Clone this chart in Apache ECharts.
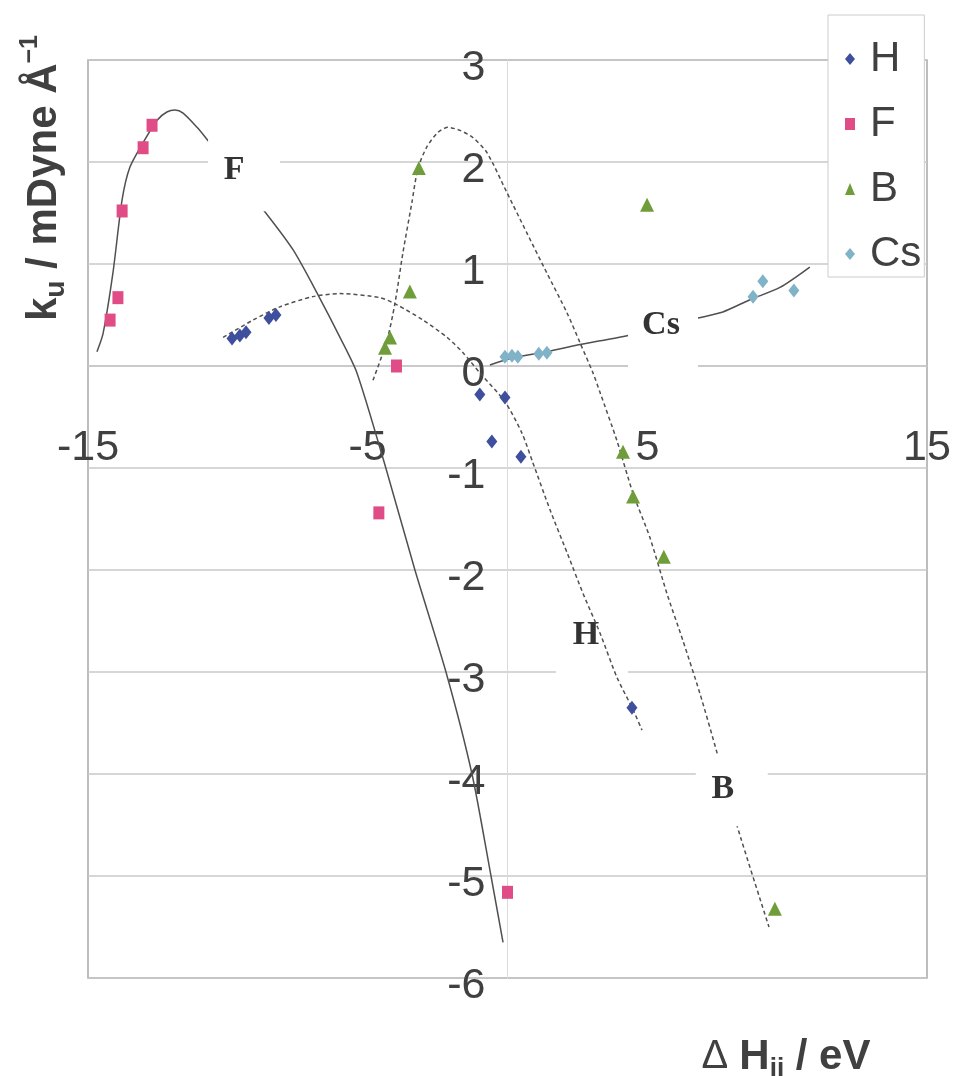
<!DOCTYPE html>
<html><head><meta charset="utf-8">
<script src="https://cdn.jsdelivr.net/npm/echarts@6/dist/echarts.min.js"></script>
<style>html,body{margin:0;padding:0;background:#fff}#c{width:954px;height:1076px}</style>
</head><body><div id="c"></div>
<script>
// ---- data ----
const seriesNames = ['H', 'F', 'B', 'Cs'];
const hPoints = [[-9.85,0.27],[-9.57,0.30],[-9.35,0.33],[-8.53,0.47],[-8.28,0.50],[-0.99,-0.28],[-0.09,-0.31],[-0.56,-0.74],[0.48,-0.89],[4.45,-3.35]];
const fPoints = [[-14.21,0.45],[-13.93,0.67],[-13.78,1.52],[-13.03,2.14],[-12.71,2.36],[-4.60,-1.44],[-3.97,0.0],[0.0,-5.16]];
const bPoints = [[-4.38,0.18],[-4.20,0.28],[-3.49,0.73],[-3.17,1.94],[4.99,1.58],[4.13,-0.84],[4.49,-1.28],[5.59,-1.87],[9.56,-5.32]];
const csPoints = [[-0.09,0.09],[0.16,0.10],[0.37,0.09],[1.12,0.12],[1.41,0.13],[8.78,0.68],[9.13,0.83],[10.24,0.74]];

// trend curves
const fCurve = [[-14.68,0.14],[-14.46,0.32],[-14.11,0.91],[-13.78,1.63],[-13.50,1.95],[-13.03,2.19],[-12.53,2.41],[-12.18,2.49],[-11.89,2.51],[-11.60,2.48],[-11.10,2.34],[-10.71,2.21],[-8.67,1.51],[-7.67,1.14],[-6.78,0.70],[-5.99,0.28],[-5.38,-0.07],[-4.35,-1.0],[-3.31,-2.0],[-2.20,-3.0],[-1.27,-4.0],[-0.59,-5.0],[-0.16,-5.65]];
const hCurve = [[-10.17,0.28],[-9.10,0.45],[-8.14,0.58],[-6.96,0.68],[-5.99,0.71],[-4.56,0.67],[-3.95,0.60],[-3.02,0.45],[-2.16,0.28],[-1.59,0.13],[-0.98,-0.07],[-0.09,-0.35],[0.52,-0.66],[0.91,-0.95],[1.52,-1.41],[2.13,-1.83],[2.70,-2.23],[3.31,-2.62],[3.91,-3.05],[4.49,-3.37],[4.81,-3.57]];
const bCurve = [[-4.81,-0.14],[-4.31,0.25],[-4.02,0.62],[-3.74,1.11],[-3.42,1.60],[-3.20,1.94],[-2.88,2.15],[-2.49,2.29],[-2.13,2.34],[-1.70,2.31],[-1.24,2.24],[-0.73,2.09],[-0.02,1.70],[0.70,1.30],[1.41,0.91],[2.13,0.52],[2.59,0.23],[3.06,-0.07],[3.31,-0.26],[3.91,-0.73],[4.49,-1.25],[5.09,-1.68],[5.70,-2.23],[6.27,-2.69],[6.88,-3.21],[7.49,-3.79],[8.20,-4.50],[9.35,-5.50]];
const csCurve = [[-0.63,0.01],[0.20,0.08],[1.41,0.14],[2.59,0.21],[4.31,0.30],[6.81,0.47],[7.70,0.53],[8.67,0.65],[9.74,0.77],[10.81,0.97]];

// curve annotation labels (text, anchor in data units)
const curveLabels = ['F', 'H', 'B', 'Cs'];
const curveLabelAnchors = [[-9.42,1.89],[3.02,-2.69],[8.02,-4.16],[5.56,0.32]];

// axes
const xMin = -15, xMax = 15, xStep = 10;
const yMin = -6, yMax = 3, yStep = 1;

// ---- styling ----
const colors = {H:'#3e4f9e', F:'#e04d86', B:'#6f9d3a', Cs:'#80b3c7'};
const symbols = {H:'diamond', F:'rect', B:'triangle', Cs:'diamond'};
const symSizes = {H:[11,14], F:[11,13], B:[14,14], Cs:[11,14]};
const labelBox = {F:{size:[72,76], offset:[-10,-3], z:5}, H:{size:[72,80], offset:[-6,-5], z:1}, B:{size:[72,72], offset:[-9,-1], z:5}, Cs:{size:[70,76], offset:[-2,-8], z:5}};
const curveColor = '#505050';
const textColor = '#404040';

const grid = {left:88, top:60, width:839, height:918};
const pointsByName = {H:hPoints, F:fPoints, B:bPoints, Cs:csPoints};

const series = [];
function curve(name, data, dashed) {
  return {name: name, type:'line', data: data, smooth: 0.25, showSymbol:false, silent:true, z:2,
    lineStyle:{color:curveColor, width:1.5, type: dashed ? [4,3] : 'solid'}};
}
series.push(curve('F fit', fCurve, false));
series.push(curve('H fit', hCurve, true));
series.push(curve('B fit', bCurve, true));
series.push(curve('Cs fit', csCurve, false));

seriesNames.forEach(n => {
  series.push({name:n, type:'scatter', data: pointsByName[n], symbol: symbols[n], symbolSize: symSizes[n], z:4,
    itemStyle:{color: colors[n], opacity:1}});
});

curveLabels.forEach((t, i) => {
  const st = labelBox[t];
  series.push({name:'label '+t, type:'scatter', silent:true, z: st.z,
    data:[{value: curveLabelAnchors[i], name:t}],
    symbol:'rect', symbolSize: st.size, itemStyle:{color:'#ffffff', opacity:1},
    label:{show:true, position:'inside', formatter: t, offset: st.offset,
      fontFamily:'Liberation Serif', fontWeight:'bold', fontSize:34, color:'#333'}});
});

// axis lines cross at (0,0): shift axes from the grid edge to the zero position
const xZeroOffset = -grid.height * (0 - yMin) / (yMax - yMin);
const yZeroOffset = -grid.width * (0 - xMin) / (xMax - xMin);

const chart = echarts.init(document.getElementById('c'), null, {renderer:'canvas'});
chart.setOption({
  backgroundColor:'#ffffff',
  animation:false,
  grid:Object.assign({show:true, borderColor:'#aaa6a6', borderWidth:1.5, backgroundColor:'transparent'}, grid),
  xAxis:{type:'value', min:xMin, max:xMax, interval:xStep, position:'bottom', offset:xZeroOffset,
    axisLine:{onZero:false, lineStyle:{color:'#c6c6c6', width:1.5}},
    axisTick:{show:false}, splitLine:{show:false},
    axisLabel:{margin:61, fontSize:43, color:textColor, fontFamily:'Liberation Sans', showMinLabel:true, showMaxLabel:true}},
  yAxis:{type:'value', min:yMin, max:yMax, interval:yStep, position:'left', offset:yZeroOffset,
    axisLine:{onZero:false, lineStyle:{color:'#dadada', width:1}},
    axisTick:{show:false},
    splitLine:{show:true, lineStyle:{color:'#c9c9c9', width:1.5}},
    axisLabel:{margin:22, fontSize:43, color:textColor, fontFamily:'Liberation Sans', verticalAlign:'top', lineHeight:16}},
  legend:{data:seriesNames, orient:'vertical', left:828, top:15, padding:[23,3,2,17], itemGap:23,
    itemWidth:10, itemHeight:12, backgroundColor:'#fff', borderColor:'#cccccc', borderWidth:1,
    formatter: n => '{sp|}{t|' + n + '}',
    textStyle:{fontSize:42, color:textColor, fontFamily:'Liberation Sans',
      rich:{sp:{width:10}, t:{fontSize:42, color:textColor, fontFamily:'Liberation Sans'}}}},
  graphic:[
    {type:'text', x:44, y:178, rotation:Math.PI/2, z:10,
      style:{text:'{b|k}{s|u}{b| / mDyne Å}{p|−1}', align:'center', verticalAlign:'middle', fill:textColor,
        rich:{b:{fontSize:42, fontWeight:'bold', fontFamily:'Liberation Sans', lineHeight:52, fill:textColor, color:textColor},
              s:{fontSize:28, fontWeight:'bold', fontFamily:'Liberation Sans', lineHeight:27, verticalAlign:'bottom', fill:textColor, color:textColor},
              p:{fontSize:25, fontWeight:'bold', fontFamily:'Liberation Sans', lineHeight:25, verticalAlign:'top', fill:textColor, color:textColor}}}},
    {type:'text', x:786, y:1057, z:10,
      style:{text:'{d|Δ }{b|H}{s|ii}{b| / eV}', align:'center', verticalAlign:'middle', fill:textColor,
        rich:{d:{fontSize:40, fontFamily:'Liberation Sans', lineHeight:50, fill:textColor, color:textColor},
              b:{fontSize:42, fontWeight:'bold', fontFamily:'Liberation Sans', lineHeight:50, fill:textColor, color:textColor},
              s:{fontSize:26, fontWeight:'bold', fontFamily:'Liberation Sans', lineHeight:26, verticalAlign:'bottom', fill:textColor, color:textColor}}}}
  ],
  series: series
});
</script></body></html>
